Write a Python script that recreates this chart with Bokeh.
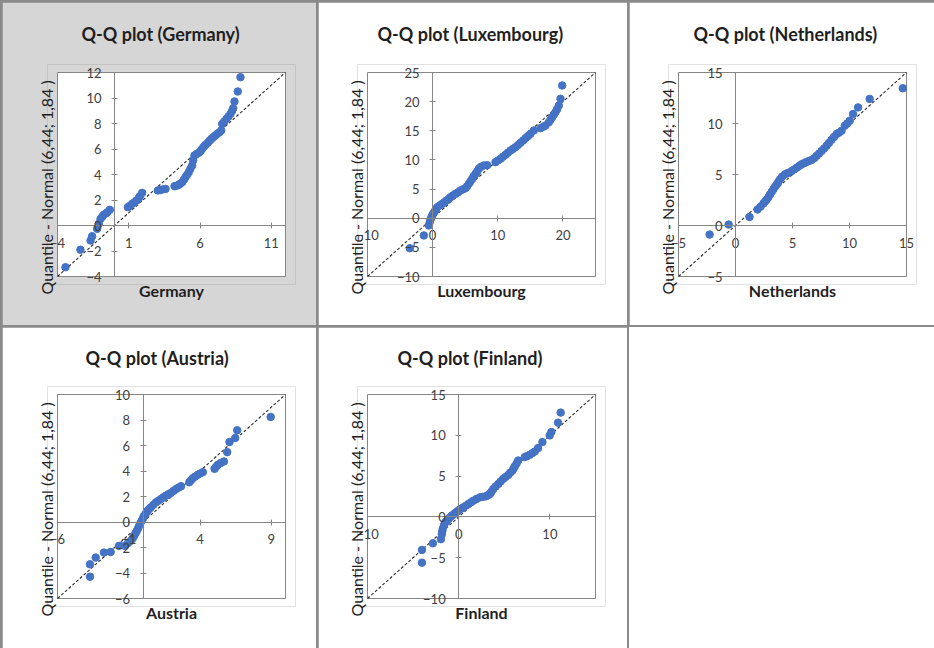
from bokeh.plotting import figure
from bokeh.layouts import row, column
from bokeh.models import LinearAxis, FixedTicker, Range1d, Spacer, Title
from bokeh.embed import file_html
from bokeh.resources import INLINE

# ---------------- data ----------------
countries = ["Germany", "Luxembourg", "Netherlands", "Austria", "Finland"]

germany_x = [-3.44, -2.39, -1.68, -1.57, -1.22, -1.1, -0.98, -0.85, -0.75, -0.6, -0.51, -0.33,
             0.94, 1.1, 1.24, 1.4, 1.54, 1.7, 1.78, 1.94,
             3.04, 3.2, 3.35, 3.58,
             4.21, 4.35, 4.51, 4.62, 4.75, 4.88, 4.98, 5.1, 5.21, 5.33, 5.45, 5.52, 5.61, 5.75,
             5.92, 6.05, 6.15, 6.27, 6.39, 6.55, 6.69, 6.8, 6.93, 7.07, 7.21, 7.35, 7.49, 7.56,
             7.7, 7.86, 8.0, 8.14, 8.25, 8.33, 8.42, 8.65, 8.84]
germany_y = [-3.27, -1.9, -1.18, -0.84, -0.26, 0.13, 0.52, 0.7, 0.84, 0.95, 1.04, 1.23,
             1.44, 1.55, 1.7, 1.82, 1.96, 2.15, 2.3, 2.56,
             2.75, 2.78, 2.82, 2.87,
             3.08, 3.12, 3.19, 3.28, 3.4, 3.6, 3.79, 3.98, 4.18, 4.45, 4.7, 5.1, 5.49, 5.6,
             5.7, 5.85, 6.02, 6.18, 6.33, 6.5, 6.67, 6.8, 6.93, 7.05, 7.19, 7.3, 7.45, 7.97,
             8.15, 8.37, 8.55, 8.76, 8.98, 9.2, 9.73, 10.51, 11.63]

luxembourg_x = [-3.5, -1.35, -0.59, -0.45, -0.33, -0.2, -0.07, 0.1, 0.29, 0.5, 0.7, 1.1, 1.47,
                1.8, 2.13, 2.45, 2.74, 3.1, 3.51, 3.9, 4.28, 4.65, 5.04, 5.3, 5.55, 5.8, 6.07,
                6.3, 6.58, 6.85, 7.09, 7.4, 7.86, 8.37, 9.65, 10.0, 10.42, 10.8, 11.19, 11.55,
                11.95, 12.35, 12.72, 13.1, 13.49, 13.9, 14.26, 14.65, 15.02, 15.53, 16.56, 17.0,
                17.33, 17.84, 18.1, 18.35, 18.6, 18.86, 19.1, 19.37, 19.63, 19.89]
luxembourg_y = [-5.14, -2.96, -1.25, -0.7, -0.22, 0.1, 0.47, 0.8, 1.15, 1.5, 1.9, 2.2, 2.47,
                2.75, 3.04, 3.3, 3.61, 3.9, 4.18, 4.45, 4.76, 4.95, 5.15, 5.5, 5.9, 6.3, 6.76,
                7.2, 7.62, 8.05, 8.48, 8.8, 9.05, 9.1, 9.62, 9.9, 10.19, 10.55, 10.88, 11.25,
                11.62, 11.9, 12.19, 12.55, 12.94, 13.35, 13.74, 14.1, 14.48, 15.05, 15.45, 15.7,
                15.91, 16.48, 16.9, 17.34, 17.75, 18.19, 18.7, 19.34, 20.49, 22.77]

netherlands_x = [-2.27, -0.6, 1.23, 1.93, 2.2, 2.45, 2.6, 2.74, 2.9, 3.03, 3.18, 3.32, 3.47,
                 3.62, 3.76, 3.91, 4.1, 4.34, 4.6, 4.93, 5.15, 5.37, 5.6, 5.8, 6.0, 6.24, 6.45,
                 6.68, 6.9, 7.11, 7.33, 7.55, 7.77, 7.99, 8.2, 8.42, 8.64, 8.86, 9.08, 9.3, 9.59,
                 9.8, 10.02, 10.31, 10.75, 11.77, 14.68]
netherlands_y = [-0.89, 0.09, 0.84, 1.57, 1.85, 2.16, 2.35, 2.55, 2.8, 3.05, 3.3, 3.54, 3.8,
                 4.03, 4.28, 4.53, 4.8, 5.02, 5.15, 5.34, 5.5, 5.67, 5.85, 6.0, 6.1, 6.23, 6.33,
                 6.43, 6.6, 6.82, 7.05, 7.31, 7.55, 7.81, 8.1, 8.4, 8.68, 8.96, 9.1, 9.29, 9.78,
                 10.0, 10.27, 10.93, 11.58, 12.41, 13.46]

austria_x = [-3.72, -3.72, -3.32, -2.74, -2.27, -1.68, -1.28, -1.05, -0.86, -0.72, -0.62, -0.52,
             -0.43, -0.35, -0.27, -0.18, -0.1, 0.0, 0.08, 0.2, 0.32, 0.43, 0.55, 0.73, 0.91,
             1.08, 1.26, 1.43, 1.61, 1.78, 1.96, 2.14, 2.32, 2.5, 2.67, 3.25, 3.37, 3.49, 3.66,
             3.84, 4.0, 4.2, 5.02, 5.12, 5.25, 5.45, 5.68, 5.91, 6.07, 6.47, 6.61, 8.96]
austria_y = [-4.29, -3.32, -2.79, -2.4, -2.35, -1.87, -1.87, -1.65, -1.48, -1.28, -1.08, -0.88,
             -0.69, -0.5, -0.3, -0.1, 0.09, 0.3, 0.49, 0.68, 0.88, 1.02, 1.15, 1.35, 1.54,
             1.67, 1.8, 1.94, 2.07, 2.18, 2.28, 2.44, 2.59, 2.7, 2.81, 3.12, 3.28, 3.43, 3.56,
             3.7, 3.8, 3.91, 4.17, 4.32, 4.48, 4.62, 4.75, 5.48, 6.27, 6.59, 7.19, 8.24]

finland_x = [-4.03, -4.03, -2.83, -1.95, -1.85, -1.8, -1.74, -1.6, -1.48, -1.3, -1.12, -0.95,
             -0.75, -0.57, -0.39, -0.15, 0.08, 0.3, 0.52, 0.8, 1.06, 1.33, 1.61, 1.95, 2.34,
             2.65, 2.99, 3.2, 3.43, 3.6, 3.79, 4.05, 4.34, 4.6, 4.88, 5.15, 5.43, 5.65, 5.9,
             6.03, 6.16, 6.35, 6.52, 7.25, 7.5, 7.79, 8.05, 8.34, 8.7, 9.18, 9.98, 10.16,
             10.89, 11.18]
finland_y = [-5.61, -4.05, -3.23, -2.73, -2.12, -1.75, -1.42, -1.0, -0.68, -0.47, -0.27, -0.05,
             0.14, 0.3, 0.47, 0.68, 0.88, 1.02, 1.17, 1.38, 1.58, 1.78, 1.99, 2.2, 2.4,
             2.46, 2.52, 2.65, 2.81, 3.1, 3.42, 3.73, 4.04, 4.35, 4.66, 4.9, 5.15, 5.42, 5.68,
             5.95, 6.21, 6.55, 6.91, 7.33, 7.45, 7.61, 7.8, 8.02, 8.43, 9.17, 9.99, 10.4,
             11.55, 12.78]

# axis limits (same for x and y in every panel) and tick values
germany_lim = [-4, 12]
luxembourg_lim = [-10, 25]
netherlands_lim = [-5, 15]
austria_lim = [-6, 10]
finland_lim = [-10, 15]

germany_xticks = [-4, 1, 6, 11]
germany_yticks = [-4, -2, 0, 2, 4, 6, 8, 10, 12]
luxembourg_xticks = [-10, 0, 10, 20]
luxembourg_yticks = [-10, -5, 0, 5, 10, 15, 20, 25]
netherlands_xticks = [-5, 0, 5, 10, 15]
netherlands_yticks = [-5, 0, 5, 10, 15]
austria_xticks = [-6, -1, 4, 9]
austria_yticks = [-6, -4, -2, 0, 2, 4, 6, 8, 10]
finland_xticks = [-10, 0, 10]
finland_yticks = [-10, -5, 0, 5, 10, 15]

y_label = "Quantile - Normal (6,44; 1,84 )"

FONT = "Lato"
GRAY_LINE = "#868686"
PT_COLOR = "#4472C4"
BOX_W, BOX_H = 228, 204      # plot-box size in px
MX, MY = 10, 8                # extra frame margin (px) so edge tick labels are not clipped


def add_y_title(p):
    """Y-axis title as a left-side Title starting a little below the box (as in Excel)."""
    try:
        t = Title(text=y_label, align="left", vertical_align="bottom", offset=-10,
                  standoff=-16, text_font=FONT, text_font_size="16px",
                  text_font_style="normal", text_color="#1f1f1f")
        p.add_layout(t, "left")
    except Exception:
        yl = LinearAxis(ticker=FixedTicker(ticks=[]), axis_line_color=None,
                        major_tick_in=0, major_tick_out=0, minor_tick_line_color=None,
                        major_tick_line_color=None, axis_label=y_label,
                        axis_label_standoff=-8, axis_label_text_font=FONT,
                        axis_label_text_font_size="16px", axis_label_text_font_style="normal",
                        axis_label_text_color="#1f1f1f")
        p.add_layout(yl, "left")


def panel(name, xs, ys, lim, xticks, yticks, w, h, left, top, bg, title_offset,
          title_standoff):
    lo, hi = lim
    padx = (hi - lo) * MX / BOX_W
    pady = (hi - lo) * MY / BOX_H
    right = w - left - BOX_W
    bottom = h - top - BOX_H
    p = figure(width=w, height=h, output_backend="svg", toolbar_location=None,
               x_axis_location=None, y_axis_location=None,
               x_range=Range1d(lo - padx, hi + padx), y_range=Range1d(lo - pady, hi + pady),
               min_border_left=left - MX, min_border_right=right - MX,
               min_border_top=top - MY, min_border_bottom=bottom - MY,
               title="Q-Q plot (" + name + ")")
    p.grid.visible = False
    p.border_fill_color = bg
    p.background_fill_color = bg
    p.outline_line_color = None

    p.title.align = "left"
    p.title.vertical_align = "top"
    p.title.offset = title_offset
    p.title.standoff = title_standoff
    p.title.text_font = FONT
    p.title.text_font_size = "18px"
    p.title.text_font_style = "bold"
    p.title.text_color = "#1f1f1f"

    # white plot box with gray outline
    p.quad(left=[lo], right=[hi], bottom=[lo], top=[hi], fill_color="white",
           line_color=GRAY_LINE, line_width=1)

    common = dict(axis_line_color=GRAY_LINE, axis_line_width=1, bounds=(lo, hi),
                  major_tick_line_color=GRAY_LINE, major_tick_in=3, major_tick_out=3,
                  minor_tick_line_color=None,
                  major_label_text_font=FONT, major_label_text_font_size="13px",
                  major_label_text_color="#404040")
    xa = LinearAxis(fixed_location=0, ticker=FixedTicker(ticks=xticks),
                    major_label_standoff=9, **common)
    ya = LinearAxis(fixed_location=0, ticker=FixedTicker(ticks=yticks),
                    major_label_standoff=10, **common)
    p.add_layout(xa, "below")
    p.add_layout(ya, "left")

    xl = LinearAxis(ticker=FixedTicker(ticks=[]), axis_line_color=None,
                    major_tick_in=0, major_tick_out=0, minor_tick_line_color=None,
                    major_tick_line_color=None, axis_label=name, axis_label_standoff=-4,
                    axis_label_text_font=FONT, axis_label_text_font_size="16px",
                    axis_label_text_font_style="bold", axis_label_text_color="#1f1f1f")
    p.add_layout(xl, "below")
    add_y_title(p)

    p.line(lim, lim, line_color="#2a2a2a", line_width=1.1, line_dash="3 2")
    p.scatter(xs, ys, size=7.5, fill_color=PT_COLOR, line_color=PT_COLOR)
    return p


p1 = panel("Germany", germany_x, germany_y, germany_lim, germany_xticks, germany_yticks,
           314, 323, 55, 70, "#d6d6d6", 34, 35)
p2 = panel("Luxembourg", luxembourg_x, luxembourg_y, luxembourg_lim, luxembourg_xticks,
           luxembourg_yticks, 309, 323, 49, 70, "white", 20, 35)
p3 = panel("Netherlands", netherlands_x, netherlands_y, netherlands_lim, netherlands_xticks,
           netherlands_yticks, 305, 323, 49, 70, "white", 25, 35)
p4 = panel("Austria", austria_x, austria_y, austria_lim, austria_xticks, austria_yticks,
           314, 321, 55, 67, "white", 38, 31)
p5 = panel("Finland", finland_x, finland_y, finland_lim, finland_xticks, finland_yticks,
           309, 321, 49, 67, "white", 40, 31)

blank = Spacer(width=305, height=321, styles={"background-color": "white"})

layout = column(
    Spacer(width=934, height=2),
    row(Spacer(width=2, height=323), p1, Spacer(width=2, height=323), p2,
        Spacer(width=2, height=323), p3),
    Spacer(width=934, height=2),
    row(Spacer(width=2, height=321), p4, Spacer(width=2, height=321), p5,
        Spacer(width=2, height=321), blank),
    styles={"background-color": "#8a8a8a"},
)

open("out.html", "w").write(file_html(layout, INLINE))
